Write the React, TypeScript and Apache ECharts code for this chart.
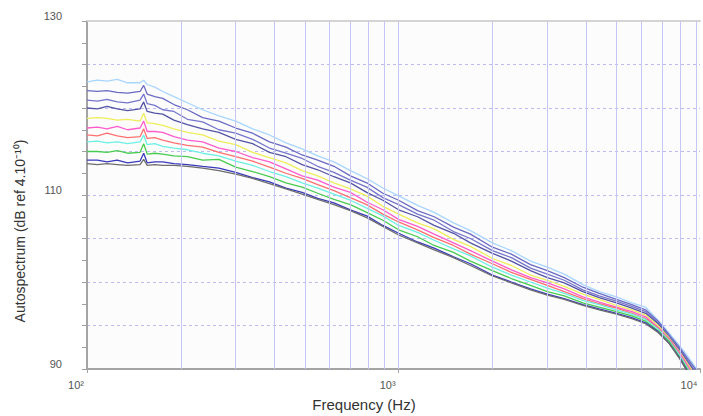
import React, { useEffect, useRef } from 'react';
import * as echarts from 'echarts';

// Frequencies (Hz) of the sampled points
const freqs = [100, 108, 116, 125, 135, 148, 152, 156, 165, 175, 190, 210, 235, 265, 300, 340, 385, 435, 490, 550, 620, 700, 790, 890, 1000, 1150, 1300, 1500, 1700, 2000, 2300, 2650, 3000, 3400, 3900, 4400, 5000, 5600, 6200, 6800, 7400, 8000, 8500, 9000, 9300];

// Autospectrum levels (dB) per measurement
const curveLightBlue = [123.0, 123.2, 123.1, 123.3, 122.9, 122.9, 123.2, 122.7, 122.4, 121.9, 121.3, 120.6, 119.8, 119.1, 118.5, 117.6, 116.9, 116.0, 115.3, 114.5, 113.8, 112.8, 111.9, 110.8, 109.9, 108.8, 108.0, 106.8, 105.9, 104.5, 103.6, 102.4, 101.7, 100.9, 99.7, 98.9, 98.3, 97.6, 97.1, 95.6, 94.1, 92.6, 91.4, 90.1, 89.3];
const curvePurpleA = [122.0, 121.9, 122.0, 121.8, 121.7, 121.9, 122.6, 121.6, 121.3, 121.1, 120.4, 119.8, 118.9, 118.5, 117.7, 117.1, 116.1, 115.5, 114.6, 114.0, 113.3, 112.2, 111.4, 110.2, 109.4, 108.2, 107.5, 106.3, 105.5, 104.0, 103.2, 102.0, 101.3, 100.5, 99.4, 98.7, 98.0, 97.4, 96.8, 95.5, 93.9, 92.4, 91.1, 89.9, 89.1];
const curvePurpleB = [120.9, 120.8, 121.0, 120.7, 120.6, 120.9, 121.6, 120.5, 120.3, 119.8, 119.6, 118.7, 118.4, 117.5, 117.1, 116.4, 115.4, 114.8, 114.2, 113.3, 112.6, 111.7, 110.9, 109.7, 108.9, 107.8, 107.1, 105.8, 105.0, 103.6, 102.8, 101.6, 100.9, 100.2, 99.1, 98.4, 97.8, 97.2, 96.6, 95.3, 93.8, 92.3, 90.9, 89.6, 88.8];
const curvePurpleC = [120.0, 119.9, 120.2, 119.9, 119.7, 119.9, 120.7, 119.6, 119.4, 119.3, 118.6, 118.1, 117.6, 117.2, 116.4, 115.9, 114.9, 114.4, 113.5, 112.9, 112.1, 111.4, 110.3, 109.4, 108.3, 107.5, 106.5, 105.6, 104.5, 103.3, 102.4, 101.3, 100.5, 99.9, 98.9, 98.2, 97.6, 97.0, 96.4, 95.2, 93.6, 92.1, 90.7, 89.4, 88.6];
const curveYellow = [118.8, 118.9, 118.8, 118.6, 118.7, 118.5, 119.4, 118.3, 118.2, 118.0, 117.6, 117.2, 116.9, 116.2, 115.8, 114.9, 114.3, 113.7, 112.8, 112.2, 111.4, 110.7, 109.9, 108.7, 107.8, 106.8, 106.1, 104.9, 104.1, 102.7, 101.9, 100.8, 100.2, 99.5, 98.6, 98.0, 97.3, 96.8, 96.2, 95.0, 93.5, 91.9, 90.5, 89.2, 88.3];
const curveMagenta = [117.7, 117.8, 117.6, 117.9, 117.5, 117.7, 118.5, 117.3, 117.3, 117.2, 116.7, 116.3, 116.1, 115.4, 115.0, 114.3, 113.8, 113.0, 112.2, 111.7, 110.9, 110.3, 109.2, 108.3, 107.2, 106.4, 105.5, 104.5, 103.6, 102.4, 101.4, 100.5, 99.9, 99.2, 98.3, 97.7, 97.1, 96.6, 96.0, 94.8, 93.4, 91.8, 90.3, 88.9, 88.0];
const curveSalmon = [116.9, 116.8, 117.1, 116.8, 116.6, 116.7, 117.6, 116.5, 116.6, 116.3, 116.0, 115.7, 115.5, 114.9, 114.4, 113.9, 113.2, 112.5, 111.9, 111.2, 110.5, 109.7, 108.9, 107.8, 106.9, 106.0, 105.1, 104.2, 103.2, 102.1, 101.1, 100.3, 99.6, 98.9, 98.1, 97.5, 97.0, 96.4, 95.8, 94.7, 93.3, 91.6, 90.1, 88.7, 87.8];
const curveCyan = [116.1, 116.2, 116.0, 116.1, 115.9, 116.1, 116.9, 115.8, 115.9, 115.6, 115.4, 115.2, 114.8, 114.5, 113.9, 113.4, 112.7, 112.1, 111.4, 110.8, 110.1, 109.4, 108.5, 107.6, 106.5, 105.7, 104.8, 103.8, 103.0, 101.7, 100.8, 100.0, 99.3, 98.7, 97.9, 97.4, 96.8, 96.3, 95.7, 94.6, 93.2, 91.5, 90.0, 88.6, 87.6];
const curveGreen = [115.0, 115.0, 114.9, 115.1, 114.8, 114.9, 115.9, 114.7, 114.8, 114.7, 114.5, 114.4, 114.0, 114.1, 113.2, 112.7, 112.1, 111.4, 110.9, 110.2, 109.5, 108.9, 108.0, 107.1, 106.0, 105.2, 104.2, 103.4, 102.4, 101.3, 100.4, 99.6, 98.9, 98.4, 97.6, 97.1, 96.6, 96.1, 95.5, 94.4, 93.1, 91.3, 89.8, 88.3, 87.3];
const curveBlue = [114.0, 114.0, 113.8, 114.0, 113.7, 113.9, 114.8, 113.7, 113.8, 113.8, 113.6, 113.5, 113.3, 113.1, 112.6, 112.0, 111.5, 110.8, 110.3, 109.6, 109.1, 108.3, 107.6, 106.5, 105.6, 104.6, 103.9, 102.9, 102.1, 100.8, 100.0, 99.2, 98.6, 98.1, 97.4, 96.9, 96.4, 95.9, 95.3, 94.3, 92.9, 91.2, 89.6, 88.1, 87.1];
const curveGray = [113.6, 113.5, 113.6, 113.5, 113.4, 113.5, 114.1, 113.4, 113.5, 113.4, 113.4, 113.3, 113.1, 112.8, 112.4, 111.9, 111.3, 110.7, 110.1, 109.5, 108.9, 108.2, 107.4, 106.4, 105.4, 104.5, 103.7, 102.8, 101.9, 100.7, 99.9, 99.1, 98.5, 98.0, 97.3, 96.8, 96.3, 95.8, 95.2, 94.2, 92.9, 91.1, 89.5, 88.0, 87.0];

const seriesNames = ['M1', 'M2', 'M3', 'M4', 'M5', 'M6', 'M7', 'M8', 'M9', 'M10', 'M11'];
const seriesColors = ['#a8d6ff', '#6a6ac4', '#7676cc', '#5454a6', '#eeee5a', '#ff5ccc', '#ff6f6f', '#6cf0e4', '#48cc50', '#3a3abc', '#6e6e6e'];

// Grid lines and tick labels
const gridFreqs = [200, 300, 400, 500, 600, 700, 800, 900, 1000, 2000, 3000, 4000, 5000, 6000, 7000, 8000, 9000];
const xTickLabels = ['10²', '10³', '10⁴'];
const yLabelValues = [90, 110, 130];
const xMin = 100;
const xMax = 9270;
const yMin = 90;
const yMax = 130;

const FONT = '"Liberation Sans", Arial, sans-serif';

export default function App() {
  const ref = useRef<HTMLDivElement>(null);
  useEffect(() => {
    if (!ref.current) return;
    const chart = echarts.init(ref.current, null, { renderer: 'svg' });
    const curves = [curveLightBlue, curvePurpleA, curvePurpleB, curvePurpleC, curveYellow, curveMagenta, curveSalmon, curveCyan, curveGreen, curveBlue, curveGray];
    const lineSeries = curves.map((arr, k) => ({
      type: 'line',
      name: seriesNames[k],
      data: freqs.map((f, i) => [f, arr[i]]),
      symbol: 'none',
      showSymbol: false,
      clip: true,
      z: 3,
      lineStyle: { width: 1.3, color: seriesColors[k] },
      itemStyle: { color: seriesColors[k] },
    }));
    const option = {
      animation: false,
      backgroundColor: '#ffffff',
      textStyle: { fontFamily: FONT },
      grid: { left: 87, right: 3, top: 21, bottom: 47, show: true, backgroundColor: '#fcfcfc', borderWidth: 0 },
      xAxis: [
        {
          type: 'log',
          logBase: 10,
          min: xMin,
          max: xMax,
          axisLine: { show: true, lineStyle: { color: '#a4a4a4', width: 2 } },
          axisTick: { show: true, length: 4, lineStyle: { color: '#a4a4a4' } },
          axisLabel: {
            fontSize: 11,
            color: '#555',
            margin: 10,
            padding: [0, 22, 0, 0],
            showMinLabel: true,
            showMaxLabel: true,
            formatter: (_v: number, i: number) => xTickLabels[i] ?? '',
          },
          splitLine: { show: false },
          minorTick: { show: false },
        },
        {
          type: 'log',
          logBase: 10,
          min: xMin,
          max: xMax,
          position: 'top',
          axisLine: { show: true, lineStyle: { color: '#d4d4d4', width: 2 } },
          axisTick: { show: false },
          axisLabel: { show: false },
          splitLine: { show: false },
        },
      ],
      yAxis: {
        type: 'value',
        min: yMin,
        max: yMax,
        interval: 5,
        axisLine: { show: true, lineStyle: { color: '#a4a4a4', width: 2 } },
        axisTick: { show: true, length: 5, lineStyle: { color: '#a0a0a0' } },
        minorTick: { show: true, splitNumber: 2, length: 5, lineStyle: { color: '#a0a0a0' } },
        axisLabel: {
          fontSize: 11,
          color: '#555',
          margin: 25,
          verticalAlign: 'bottom',
          formatter: (v: number) => (yLabelValues.includes(v) ? String(v) : ''),
        },
        splitLine: { show: true, lineStyle: { color: '#bcbcf0', width: 1, type: [3, 3] } },
      },
      graphic: [
        {
          type: 'text',
          x: 20,
          y: 231,
          rotation: Math.PI / 2,
          style: {
            text: 'Autospectrum (dB ref 4.10⁻¹⁰)',
            fontSize: 14,
            fontFamily: FONT,
            fill: '#333',
            align: 'center',
            verticalAlign: 'middle',
          },
        },
        {
          type: 'text',
          x: 364,
          y: 404,
          style: {
            text: 'Frequency (Hz)',
            fontSize: 15,
            fontFamily: FONT,
            fill: '#333',
            align: 'center',
            verticalAlign: 'middle',
          },
        },
      ],
      series: [
        {
          type: 'line',
          data: [],
          silent: true,
          z: 1,
          markLine: {
            silent: true,
            symbol: ['none', 'none'],
            label: { show: false },
            lineStyle: { color: '#c6c6f4', width: 1, type: 'solid' },
            data: gridFreqs.map((f) => ({ xAxis: f })),
          },
        },
        ...lineSeries,
      ],
    };
    chart.setOption(option as any);
    return () => chart.dispose();
  }, []);
  return <div ref={ref} style={{ position: 'fixed', left: 0, top: 0, width: 703, height: 416 }} />;
}
